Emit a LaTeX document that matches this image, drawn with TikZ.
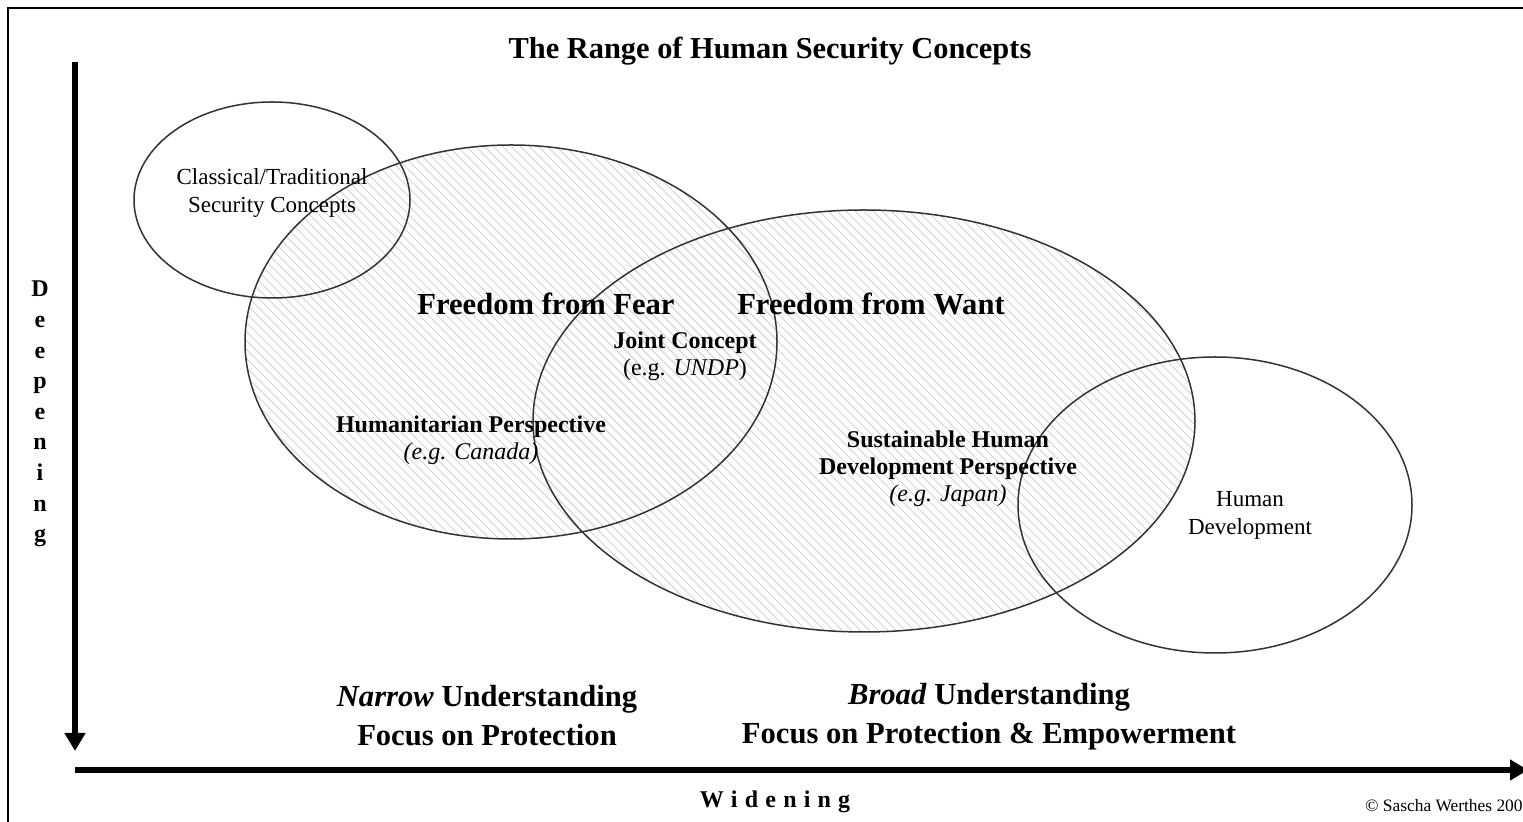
\documentclass[tikz,border=0pt]{standalone}
\usepackage{fontspec}
\setmainfont{Liberation Serif}
\usetikzlibrary{arrows.meta}
\begin{document}
\begin{tikzpicture}[x=0.5pt,y=-0.5pt,
  ell/.style={draw=black!80, line width=0.75pt},
  hatchline/.style={draw=black!17, line width=0.45pt},
  axis/.style={line width=3.2pt, -{Triangle[length=9pt,width=10pt]}},
  reg/.style={font=\fontsize{11.5}{14}\selectfont, align=center, inner sep=0pt},
  mid/.style={font=\fontsize{12}{13.5}\selectfont, align=center, inner sep=0pt},
  big/.style={font=\fontsize{15.3}{18}\selectfont\bfseries, inner sep=0pt},
  titlef/.style={font=\fontsize{15.2}{18}\selectfont\bfseries, inner sep=0pt},
  bot/.style={font=\fontsize{15.3}{19.5}\selectfont\bfseries, align=center, inner sep=0pt},
  deep/.style={font=\fontsize{12}{15.3}\selectfont\bfseries, align=center, inner sep=0pt},
  small/.style={font=\fontsize{8.7}{10}\selectfont, inner sep=0pt}
]
\useasboundingbox (0,0) rectangle (1523,822);
\clip (0,0) rectangle (1523,822);
\fill[white] (0,0) rectangle (1523,822);
\draw[line width=1.1pt] (8,8) rectangle (1545,845);

% hatching of the two large ellipses
\begin{scope}
  \clip (511,342) ellipse [x radius=266, y radius=197];
  \foreach \c in {-400,-391,...,1100} \draw[hatchline] (\c+100,100) -- (\c+700,700);
\end{scope}
\begin{scope}
  \clip (864,421) ellipse [x radius=331, y radius=211];
  \foreach \c in {-400,-391,...,1100} \draw[hatchline] (\c+100,100) -- (\c+700,700);
\end{scope}

% ellipse outlines
\draw[ell] (272,200) ellipse [x radius=138, y radius=98];
\draw[ell] (511,342) ellipse [x radius=266, y radius=197];
\draw[ell] (864,421) ellipse [x radius=331, y radius=211];
\draw[ell] (1215,505) ellipse [x radius=197, y radius=148];

% axes
\coordinate (vtop) at (75,62);
\coordinate (vbot) at (75,751);
\coordinate (hl) at (75,770);
\coordinate (hr) at (1528,770);
\draw[axis] (vtop) -- (vbot);
\draw[axis] (hl) -- (hr);

% texts
\node[titlef] (title) at (770,51) {The Range of Human Security Concepts};
\node[deep] (deep) at (40,414) {D\\e\\e\\p\\e\\n\\i\\n\\g};
\node[deep] (widen) at (775,802) {W\hspace{3.6pt}i\hspace{3.6pt}d\hspace{3.6pt}e\hspace{3.6pt}n\hspace{3.6pt}i\hspace{3.6pt}n\hspace{3.6pt}g};
\node[small, anchor=east] (copy) at (1523,806) {© Sascha Werthes 200};

\node[reg] (classical) at (272,193) {Classical/Traditional\\Security Concepts};
\node[big] (fear) at (546,304) {Freedom from Fear};
\node[big] (want) at (871,304) {Freedom from Want};
\node[mid] (joint) at (685,356) {\textbf{Joint Concept}\\(e.g. \textit{UNDP})};
\node[mid] (hum) at (471,440) {\textbf{Humanitarian Perspective}\\\textit{(e.g. Canada)}};
\node[mid] (sus) at (948,469) {\textbf{Sustainable Human}\\\textbf{Development Perspective}\\\textit{(e.g. Japan)}};
\node[reg] (hd) at (1250,515) {Human\\Development};
\node[bot] (narrow) at (487,716) {\textit{Narrow} Understanding\\Focus on Protection};
\node[bot] (broad) at (989,717) {\textit{Broad} Understanding\\Focus on Protection \& Empowerment};
\end{tikzpicture}
\end{document}
